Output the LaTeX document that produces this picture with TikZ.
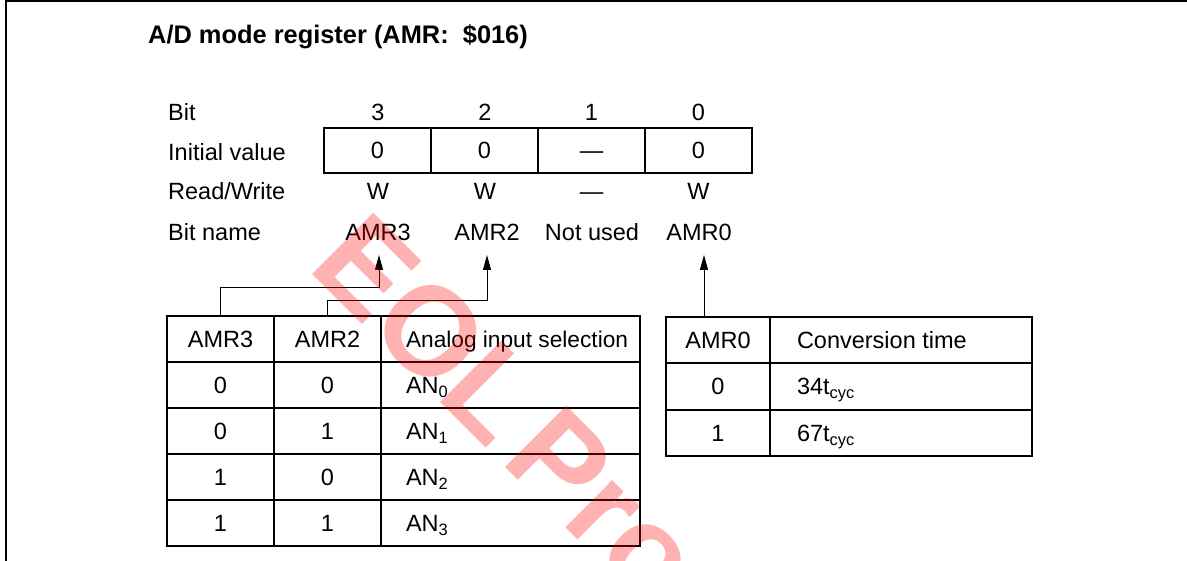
\documentclass[tikz,border=0pt]{standalone}
\usepackage{fontspec}
\setmainfont{Liberation Sans}
\usetikzlibrary{arrows.meta,calc}
\newcommand{\fsz}{\fontsize{23.5}{28}\selectfont}
\newcommand{\lft}[2]{\makebox[#1][l]{#2}}
\begin{document}
\begin{tikzpicture}[x=1pt,y=-1pt,
  every node/.style={font=\fsz},
  lbl/.style={inner sep=0pt, text height=16.8pt, text depth=0pt},
  cell/.style={draw, line width=1.2pt, inner sep=0pt, minimum height=46pt, minimum width=107pt, text height=16.8pt, text depth=0pt},
  conn/.style={line width=1pt, -{Triangle[length=15pt,width=8pt]}},
]
\useasboundingbox (0,0) rectangle (1187,561);
% frame
\draw[line width=2pt] (5.5,561) -- (5.5,1.5) -- (1187,1.5);
% title
\node[lbl, anchor=west, font=\bfseries\fontsize{25.4}{30}\selectfont] (title) at (148,35) {A/D mode register (AMR:\ \ \$016)};
% row labels
\node[lbl, anchor=west] (lbit) at (168,112) {Bit};
\node[lbl, anchor=west] (linit) at (168,152) {Initial value};
\node[lbl, anchor=west] (lrw) at (168,191) {Read/Write};
\node[lbl, anchor=west] (lname) at (168,232) {Bit name};
% bit numbers
\node[lbl] (n3) at (378,112) {3};
\node[lbl] (n2) at (485,112) {2};
\node[lbl] (n1) at (591.5,112) {1};
\node[lbl] (n0) at (698.5,112) {0};
% register
\node[cell, minimum height=45pt] (r3) at (377.5,150.5) {0};
\node[cell, minimum height=45pt] (r2) at (484.5,150.5) {0};
\node[cell, minimum height=45pt] (r1) at (591.5,150.5) {—};
\node[cell, minimum height=45pt] (r0) at (698.5,150.5) {0};
% read/write
\node[lbl] (w3) at (378,191) {W};
\node[lbl] (w2) at (485,191) {W};
\node[lbl] (w1) at (591.5,191) {—};
\node[lbl] (w0) at (698.5,191) {W};
% bit names
\node[lbl] (b3) at (378,232) {AMR3};
\node[lbl] (b2) at (487,232) {AMR2};
\node[lbl] (b1) at (592,232) {Not used};
\node[lbl] (b0) at (699,232) {AMR0};
% left table
\node[cell] (lh3) at (220.5,339) {AMR3};
\node[cell] (lh2) at (327.5,339) {AMR2};
\node[cell, minimum width=259pt] (lhs) at (510.5,339) {\lft{209pt}{\fontsize{22.7}{27}\selectfont Analog input selection}};
\node[cell] (la1) at (220.5,385) {0};
\node[cell] (lb1) at (327.5,385) {0};
\node[cell, minimum width=259pt] (lc1) at (510.5,385) {\lft{209pt}{AN\textsubscript{0}}};
\node[cell] (la2) at (220.5,431) {0};
\node[cell] (lb2) at (327.5,431) {1};
\node[cell, minimum width=259pt] (lc2) at (510.5,431) {\lft{209pt}{AN\textsubscript{1}}};
\node[cell] (la3) at (220.5,477) {1};
\node[cell] (lb3) at (327.5,477) {0};
\node[cell, minimum width=259pt] (lc3) at (510.5,477) {\lft{209pt}{AN\textsubscript{2}}};
\node[cell] (la4) at (220.5,523) {1};
\node[cell] (lb4) at (327.5,523) {1};
\node[cell, minimum width=259pt] (lc4) at (510.5,523) {\lft{209pt}{AN\textsubscript{3}}};
% right table
\node[cell, minimum width=104pt] (rh0) at (718,340) {AMR0};
\node[cell, minimum width=262pt] (rhs) at (901,340) {\lft{208pt}{Conversion time}};
\node[cell, minimum width=104pt] (ra1) at (718,386.5) {0};
\node[cell, minimum width=262pt] (rc1) at (901,386.5) {\lft{208pt}{34t\textsubscript{cyc}}};
\node[cell, minimum width=104pt] (ra2) at (718,433) {1};
\node[cell, minimum width=262pt] (rc2) at (901,433) {\lft{208pt}{67t\textsubscript{cyc}}};
% connectors
\coordinate (a3) at (379,255);
\coordinate (a2) at (487,255);
\coordinate (a0) at (704,255);
\draw[conn] (lh3.north) -- ++(0,-28) -| (a3);
\draw[conn] (lh2.north) -- ++(0,-15) -| (a2);
\draw[conn] (a0 |- rh0.north) -- (a0);
% watermark
\begin{scope}
\clip (0,0) rectangle (1187,561);
\node[rotate=-45, anchor=base west, text=red, opacity=0.3, inner sep=0pt, font=\bfseries\fontsize{126}{126}\selectfont] (wm) at (306,268) {EOL\hspace{0.12em}Pro};
\end{scope}
\end{tikzpicture}
\end{document}
